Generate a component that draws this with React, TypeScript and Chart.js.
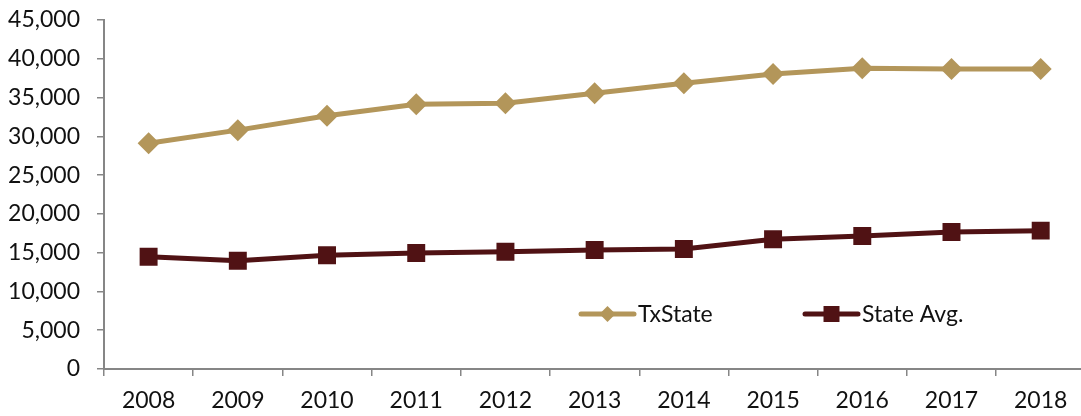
import React, { useEffect, useRef } from "react";
import { Chart, registerables } from "chart.js";
import { drawPoint } from "chart.js/helpers";

Chart.register(...registerables);

const years = ["2008", "2009", "2010", "2011", "2012", "2013", "2014", "2015", "2016", "2017", "2018"];
const txState = [29100, 30800, 32650, 34130, 34260, 35550, 36840, 38030, 38770, 38680, 38680];
const stateAvg = [14480, 13970, 14660, 14960, 15130, 15340, 15470, 16720, 17150, 17660, 17840];
const seriesNames = ["TxState", "State Avg."];

const GOLD = "#B3965A";
const MAROON = "#501214";
const AXIS = "#868686";
const FONT = "Lato, 'Open Sans', sans-serif";
const FS = 23;
const W = 1098;

const legendPlugin = {
  id: "insideLegend",
  afterDraw(chart: any) {
    const ctx = chart.ctx;
    const area = chart.chartArea;
    const y = area.bottom - 55;
    const items = [
      { x: area.left + 477, color: GOLD, style: "rectRot", radius: 8, label: seriesNames[0] },
      { x: area.left + 701, color: MAROON, style: "rect", radius: 11.3, label: seriesNames[1] },
    ];
    ctx.save();
    for (const it of items) {
      ctx.strokeStyle = it.color;
      ctx.lineWidth = 5;
      ctx.lineCap = "round";
      ctx.beginPath();
      ctx.moveTo(it.x, y);
      ctx.lineTo(it.x + 53, y);
      ctx.stroke();
      ctx.fillStyle = it.color;
      drawPoint(ctx, { pointStyle: it.style, radius: it.radius, borderWidth: 0, rotation: 0 } as any, it.x + 26.5, y);
      ctx.fillStyle = "#111";
      ctx.font = `${FS}px ${FONT}`;
      ctx.textBaseline = "middle";
      ctx.textAlign = "left";
      ctx.fillText(it.label, it.x + 57, y + 1);
    }
    ctx.restore();
  },
};

export default function App() {
  const ref = useRef<HTMLCanvasElement>(null);
  useEffect(() => {
    if (!ref.current) return;
    const chart = new Chart(ref.current, {
      type: "line",
      data: {
        labels: years,
        datasets: [
          {
            label: seriesNames[0],
            data: txState,
            borderColor: GOLD,
            backgroundColor: GOLD,
            borderWidth: 5,
            pointStyle: "rectRot",
            pointRadius: 11,
            pointBorderWidth: 0,
            tension: 0,
          },
          {
            label: seriesNames[1],
            data: stateAvg,
            borderColor: MAROON,
            backgroundColor: MAROON,
            borderWidth: 5,
            pointStyle: "rect",
            pointRadius: 12.7,
            pointBorderWidth: 0,
            tension: 0,
          },
        ],
      },
      options: {
        animation: false,
        responsive: false,
        events: [],
        layout: { padding: { top: 20, right: 4, bottom: 0, left: 0 } },
        plugins: { legend: { display: false }, tooltip: { enabled: false } },
        scales: {
          x: {
            offset: true,
            grid: { offset: true, drawOnChartArea: false, drawTicks: true, tickLength: 7, color: AXIS, lineWidth: 1.5 },
            border: { color: AXIS, width: 2 },
            ticks: { color: "#111", font: { family: FONT, size: FS }, padding: 11, maxRotation: 0, autoSkip: false },
            afterFit: (s: any) => { s.height = 47; s.paddingLeft = 0; s.paddingRight = 0; },
          },
          y: {
            min: 0,
            max: 45000,
            grid: { drawOnChartArea: false, drawTicks: true, tickLength: 7, color: AXIS, lineWidth: 1.5 },
            border: { color: AXIS, width: 2 },
            ticks: {
              stepSize: 5000,
              color: "#111",
              font: { family: FONT, size: FS },
              padding: 17,
              callback: (v: any) => Number(v).toLocaleString("en-US"),
            },
            afterFit: (s: any) => { s.width = 104; s.paddingTop = 0; s.paddingBottom = 0; },
          },
        },
      },
      plugins: [legendPlugin],
    });
    return () => chart.destroy();
  }, []);
  return (
    <div style={{ position: "fixed", left: 0, top: 0, width: W, height: 416, background: "#fff" }}>
      <canvas ref={ref} width={W} height={416} style={{ display: "block", width: W, height: 416 }} />
    </div>
  );
}
